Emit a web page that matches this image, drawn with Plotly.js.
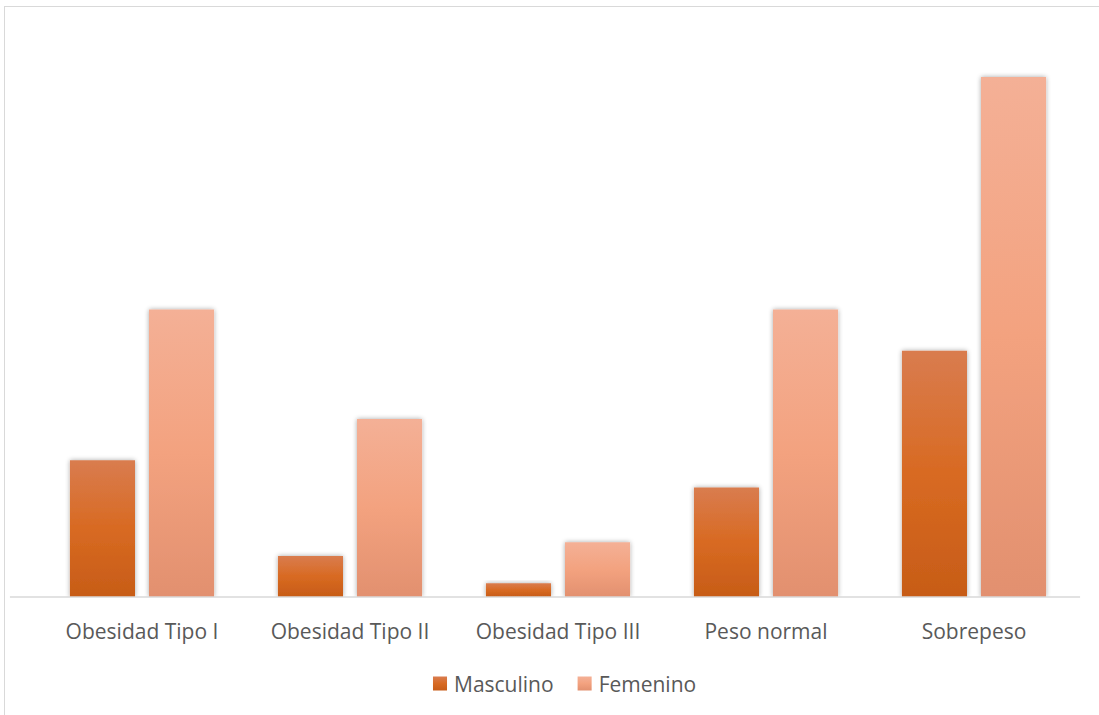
<!DOCTYPE html>
<html>
<head>
<meta charset="utf-8">
<script src="https://cdn.plot.ly/plotly-3.0.1.min.js"></script>
<style>
html,body{margin:0;padding:0;background:#fff;}
#frame{position:absolute;left:4px;top:6px;width:1100px;height:715px;border:1px solid #d9d9d9;box-sizing:border-box;}
#chart{position:absolute;left:0;top:0;width:1099px;height:715px;}
</style>
</head>
<body>
<div id="frame"></div>
<div id="chart"></div>
<script>
const categories = ["Obesidad Tipo I", "Obesidad Tipo II", "Obesidad Tipo III", "Peso normal", "Sobrepeso"];
const masculino = [10, 3, 1, 8, 18];
const femenino = [21, 13, 4, 21, 38];

const traces = [
  {type:'bar', name:'Masculino', x:categories, y:masculino, marker:{color:'#d66a24'}, hoverinfo:'none'},
  {type:'bar', name:'Femenino', x:categories, y:femenino, marker:{color:'#f0a080'}, hoverinfo:'none'}
];

const layout = {
  width:1099, height:715,
  margin:{l:38, r:21, t:40, b:117},
  paper_bgcolor:'rgba(0,0,0,0)', plot_bgcolor:'rgba(0,0,0,0)',
  barmode:'group', bargap:0.24, bargroupgap:0.177,
  font:{family:'"Open Sans", sans-serif', size:21, color:'#595959'},
  xaxis:{showline:false, showgrid:false, zeroline:false, ticks:'', ticklabelstandoff:20, tickfont:{size:21, color:'#595959'}},
  yaxis:{range:[0,40.7], showline:false, showgrid:false, zeroline:false, showticklabels:false, ticks:''},
  showlegend:true,
  legend:{orientation:'h', x:0.5, xanchor:'center', y:-0.154, yanchor:'middle', font:{size:21, color:'#595959'}, itemwidth:30, traceorder:'normal'},
  shapes:[{type:'line', xref:'paper', yref:'paper', x0:-0.027, x1:1.002, y0:0, y1:0, line:{color:'#d9d9d9', width:1.5}}]
};

Plotly.newPlot('chart', traces, layout, {staticPlot:true, displayModeBar:false}).then(function(gd){
  const svg = gd.querySelector('svg.main-svg');
  const ns = 'http://www.w3.org/2000/svg';
  const defs = document.createElementNS(ns,'defs');
  function grad(id, stops){
    const g = document.createElementNS(ns,'linearGradient');
    g.setAttribute('id', id); g.setAttribute('x1','0'); g.setAttribute('y1','0'); g.setAttribute('x2','0'); g.setAttribute('y2','1');
    stops.forEach(function(s){const st=document.createElementNS(ns,'stop'); st.setAttribute('offset',s[0]); st.setAttribute('stop-color',s[1]); g.appendChild(st);});
    defs.appendChild(g);
  }
  grad('gM', [['0','#d97c4f'],['0.5','#d86a22'],['1','#c75c17']]);
  grad('gF', [['0','#f4b096'],['0.5','#f3a27f'],['1','#e2906f']]);
  const f = document.createElementNS(ns,'filter');
  f.setAttribute('id','sh'); f.setAttribute('x','-20%'); f.setAttribute('y','-20%'); f.setAttribute('width','140%'); f.setAttribute('height','140%');
  f.innerHTML = '<feGaussianBlur in="SourceAlpha" stdDeviation="2.5"/><feOffset dx="0" dy="0" result="b"/><feComponentTransfer><feFuncA type="linear" slope="0.35"/></feComponentTransfer><feMerge><feMergeNode/><feMergeNode in="SourceGraphic"/></feMerge>';
  defs.appendChild(f);
  svg.insertBefore(defs, svg.firstChild);
  const ids = ['gM','gF'];
  gd.querySelectorAll('.barlayer .trace').forEach(function(t,i){
    t.querySelectorAll('path').forEach(function(p){p.style.fill='url(#'+ids[i]+')'; p.setAttribute('filter','url(#sh)');});
  });
  gd.querySelectorAll('.legend .traces').forEach(function(t,i){
    t.querySelectorAll('.legendpoints path').forEach(function(p){p.style.fill='url(#'+ids[i]+')'; p.setAttribute('transform','translate(26,0) scale(1.17)');});
  });
});
</script>
</body>
</html>
